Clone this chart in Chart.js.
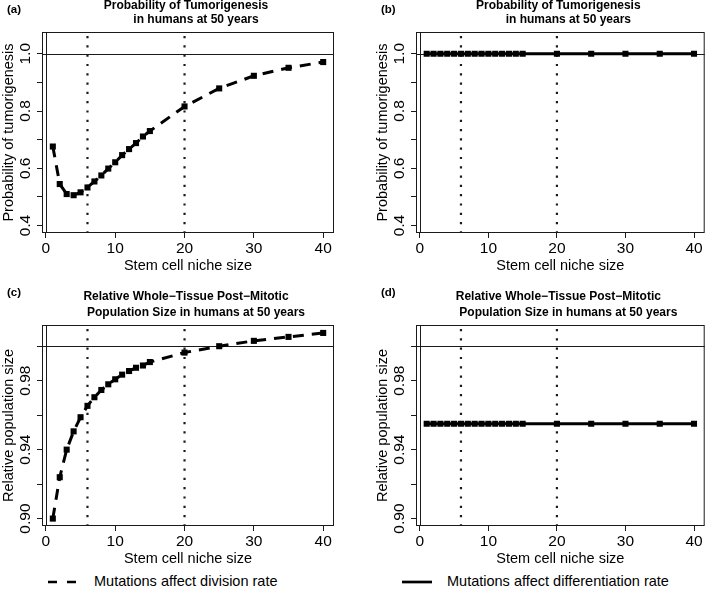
<!DOCTYPE html>
<html>
<head>
<meta charset="utf-8">
<script src="https://cdn.jsdelivr.net/npm/chart.js"></script>
<style>
  body { margin: 0; width: 709px; height: 590px; overflow: hidden; background: #fff; position: relative;
         font-family: "Liberation Sans", Arial, sans-serif; }
  canvas { position: absolute; }
  .legend { position: absolute; top: 573px; font-size: 14.5px; line-height: 17px; color: #000; white-space: nowrap; }
  .legend svg { position: absolute; top: 7px; }
</style>
</head>
<body>
<canvas id="panelA" width="354" height="275" style="left:0;top:0"></canvas>
<canvas id="panelB" width="335" height="275" style="left:374px;top:0"></canvas>
<canvas id="panelC" width="354" height="288" style="left:0;top:280px"></canvas>
<canvas id="panelD" width="335" height="288" style="left:374px;top:280px"></canvas>

<div class="legend" style="left:48px">
  <svg width="28" height="4"><line x1="0" y1="2" x2="28" y2="2" stroke="#000" stroke-width="2.7" stroke-dasharray="9,10"/></svg>
  <span style="margin-left:46px">Mutations affect division rate</span>
</div>
<div class="legend" style="left:402px">
  <svg width="30" height="4"><line x1="0" y1="2" x2="30" y2="2" stroke="#000" stroke-width="2.7"/></svg>
  <span style="margin-left:45px">Mutations affect differentiation rate</span>
</div>

<script>
// niche sizes on the x axis
const nicheSizes = [1, 2, 3, 4, 5, 6, 7, 8, 9, 10, 11, 12, 13, 14, 15, 20, 25, 30, 35, 40];

// probability of tumorigenesis
const tumorDivision = [0.676, 0.545, 0.510, 0.506, 0.516, 0.533, 0.554, 0.575, 0.599, 0.621,
  0.646, 0.667, 0.688, 0.711, 0.730, 0.816, 0.879, 0.923, 0.951, 0.971];
const tumorDifferentiation = [1, 1, 1, 1, 1, 1, 1, 1, 1, 1, 1, 1, 1, 1, 1, 1, 1, 1, 1, 1];

// relative post-mitotic population size
const popDivision = [0.900, 0.924, 0.940, 0.9506, 0.9588, 0.9654, 0.9704, 0.9746, 0.9779, 0.9808,
  0.9835, 0.9856, 0.9875, 0.9888, 0.9908, 0.9963, 1.0000, 1.0031, 1.0054, 1.0077];
const popDifferentiation = [0.955, 0.955, 0.955, 0.955, 0.955, 0.955, 0.955, 0.955, 0.955, 0.955,
  0.955, 0.955, 0.955, 0.955, 0.955, 0.955, 0.955, 0.955, 0.955, 0.955];

// vertical dotted marks and horizontal reference
const nicheMarks = [6, 20];
const refLevel = 1.0;

// y tick labels that are printed (others only get a tick mark)
const probTickLabels = ['0.4', '0.6', '0.8', '1.0'];
const popTickLabels = ['0.90', '0.94', '0.98'];

const titleProb = ['Probability of Tumorigenesis', 'in humans at 50 years'];
const titlePop = ['Relative Whole\u2212Tissue Post\u2212Mitotic', 'Population Size in humans at 50 years'];

const FONT = '"Liberation Sans", Arial, sans-serif';
const INK = '#1a1a1a';
const TICK_SIZE = 15.5;
Chart.defaults.font.family = FONT;
Chart.defaults.color = '#000';

// extra drawing: box, reference lines, rotated y labels, titles
const rPlot = {
  id: 'rPlot',
  beforeDatasetsDraw(chart, args, opts) {
    const { ctx, chartArea: a, scales: { x, y } } = chart;
    ctx.save();
    ctx.strokeStyle = INK;
    // thin lines at x = 0 and y = 1
    ctx.lineWidth = 1;
    ctx.beginPath();
    const x0 = Math.round(x.getPixelForValue(0)) + 0.5;
    ctx.moveTo(x0, a.top); ctx.lineTo(x0, a.bottom);
    const yr = Math.round(y.getPixelForValue(refLevel)) + 0.5;
    ctx.moveTo(a.left, yr); ctx.lineTo(a.right, yr);
    ctx.stroke();
    // dotted niche marks
    ctx.lineWidth = 2.2;
    ctx.setLineDash([2.2, 7.1]);
    nicheMarks.forEach(v => {
      const px = x.getPixelForValue(v);
      ctx.beginPath();
      ctx.moveTo(px, a.top + 4); ctx.lineTo(px, a.bottom);
      ctx.stroke();
    });
    ctx.restore();
  },
  afterDraw(chart, args, opts) {
    const { ctx, chartArea: a, scales: { y } } = chart;
    ctx.save();
    ctx.strokeStyle = INK;
    ctx.lineWidth = 1;
    ctx.strokeRect(a.left + 0.5, a.top + 0.5, a.right - a.left - 1, a.bottom - a.top - 1);

    // rotated y tick labels, like R's las = 0
    ctx.fillStyle = '#000';
    ctx.font = TICK_SIZE + 'px ' + FONT;
    ctx.textAlign = 'center';
    ctx.textBaseline = 'middle';
    y.ticks.forEach(t => {
      const lbl = opts.yLabels.find(l => Math.abs(parseFloat(l) - t.value) < 1e-6);
      if (!lbl) return;
      ctx.save();
      ctx.translate(y.right - 16, y.getPixelForValue(t.value));
      ctx.rotate(-Math.PI / 2);
      ctx.fillText(lbl, 0, 0);
      ctx.restore();
    });

    // two-line bold title and panel letter
    const cx = (a.left + a.right) / 2;
    ctx.font = 'bold 12px ' + FONT;
    ctx.fillText(opts.title[0], cx - 2, opts.titleY[0]);
    ctx.fillText(opts.title[1], cx + 8, opts.titleY[1]);
    ctx.font = 'bold 11.5px ' + FONT;
    ctx.textAlign = 'left';
    ctx.fillText(opts.letter, opts.letterX, opts.letterY);
    ctx.restore();
  }
};

function makePanel(id, values, dashed, yMin, yMax, yStep, yLabels, yTitle, title, titleY, letter, letterY, padTop, padRight) {
  const pts = nicheSizes.map((n, i) => ({ x: n, y: values[i] }));
  return new Chart(document.getElementById(id), {
    type: 'line',
    data: {
      datasets: [{
        data: pts,
        borderColor: '#000',
        backgroundColor: '#000',
        borderWidth: 3,
        borderDash: dashed ? [11, 8] : [],
        borderCapStyle: 'butt',
        pointStyle: 'rect',
        pointRadius: 4.3,
        pointBorderWidth: 0,
        tension: 0
      }]
    },
    options: {
      responsive: false,
      animation: false,
      devicePixelRatio: 1,
      layout: { padding: { top: padTop, right: padRight, left: 0, bottom: 0 } },
      plugins: {
        legend: { display: false },
        tooltip: { enabled: false },
        rPlot: { yLabels, title, titleY, letter, letterX: 7, letterY }
      },
      scales: {
        x: {
          type: 'linear',
          min: -0.56,
          max: 41.56,
          afterFit: s => { s.height = 42; },
          ticks: { stepSize: 10, includeBounds: false, padding: 1, font: { size: TICK_SIZE }, color: '#000', maxRotation: 0 },
          grid: { drawOnChartArea: false, drawTicks: true, tickLength: 5, color: INK },
          border: { display: false },
          title: { display: true, text: 'Stem cell niche size', font: { size: 14.5 }, color: '#000', padding: 0 }
        },
        y: {
          type: 'linear',
          min: yMin,
          max: yMax,
          afterFit: s => { s.width = 42; },
          ticks: { display: false, stepSize: yStep, includeBounds: false },
          grid: { drawOnChartArea: false, drawTicks: true, tickLength: 5, color: INK },
          border: { display: false },
          title: { display: true, text: yTitle, font: { size: 14.5 }, color: '#000', padding: 0 }
        }
      }
    },
    plugins: [rPlot]
  });
}

makePanel('panelA', tumorDivision, true, 0.374, 1.076, 0.1, probTickLabels,
  'Probability of tumorigenesis', titleProb, [6, 20], '(a)', 10, 32, 20);
makePanel('panelB', tumorDifferentiation, false, 0.374, 1.076, 0.1, probTickLabels,
  'Probability of tumorigenesis', titleProb, [6, 20], '(b)', 10, 32, 1);
makePanel('panelC', popDivision, true, 0.8957, 1.0123, 0.02, popTickLabels,
  'Relative population size', titlePop, [17, 33], '(c)', 13, 45, 20);
makePanel('panelD', popDifferentiation, false, 0.8957, 1.0123, 0.02, popTickLabels,
  'Relative population size', titlePop, [17, 33], '(d)', 13, 45, 1);
</script>
</body>
</html>
